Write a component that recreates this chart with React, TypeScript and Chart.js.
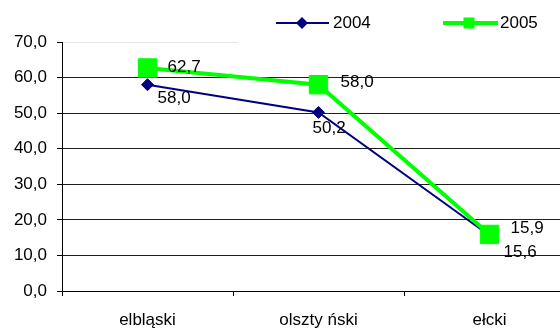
import React, { useEffect, useRef } from "react";
import { Chart, registerables } from "chart.js";

Chart.register(...registerables);

const categories = ["elbląski", "olszty ński", "ełcki"];
const series2004 = [58.0, 50.2, 15.6];
const series2005 = [62.7, 58.0, 15.9];
const seriesNames = ["2004", "2005"];
const yTicks = [0, 10, 20, 30, 40, 50, 60, 70];

const FONT = "'Liberation Sans', Arial, sans-serif";
const NAVY = "#000080";
const LIME = "#00ff00";
const CANVAS_W = 589;

const fmt = (v: number) => v.toFixed(1).replace(".", ",");

const labelOffsets = [
  [
    [10, 14],
    [-6, 16],
    [14, 17],
  ],
  [
    [20, -1],
    [22, -2],
    [21, -6],
  ],
];

const overlayPlugin = {
  id: "overlay",
  beforeDatasetsDraw(chart: any) {
    const ctx = chart.ctx;
    ctx.save();
    ctx.fillStyle = "#ffffff";
    ctx.fillRect(238, 38, 400, 8);
    ctx.restore();
  },
  afterDatasetsDraw(chart: any) {
    const ctx = chart.ctx;
    ctx.save();
    ctx.font = `17px ${FONT}`;
    ctx.fillStyle = "#000000";
    ctx.textAlign = "left";
    ctx.textBaseline = "middle";
    chart.data.datasets.forEach((ds: any, di: number) => {
      const meta = chart.getDatasetMeta(di);
      meta.data.forEach((pt: any, i: number) => {
        const [dx, dy] = labelOffsets[di][i];
        ctx.fillText(fmt(ds.data[i]), pt.x + dx, pt.y + dy);
      });
    });
    ctx.restore();
  },
  afterDraw(chart: any) {
    const ctx = chart.ctx;
    ctx.save();
    const y = 23;
    ctx.strokeStyle = NAVY;
    ctx.lineWidth = 2;
    ctx.beginPath();
    ctx.moveTo(276, y);
    ctx.lineTo(329, y);
    ctx.stroke();
    ctx.fillStyle = NAVY;
    ctx.beginPath();
    ctx.moveTo(302 - 6, y);
    ctx.lineTo(302, y - 6);
    ctx.lineTo(302 + 6, y);
    ctx.lineTo(302, y + 6);
    ctx.closePath();
    ctx.fill();
    ctx.strokeStyle = LIME;
    ctx.lineWidth = 4;
    ctx.beginPath();
    ctx.moveTo(443, y);
    ctx.lineTo(498, y);
    ctx.stroke();
    ctx.fillStyle = LIME;
    ctx.fillRect(469 - 5.5, y - 5.5, 11, 11);
    ctx.font = `17px ${FONT}`;
    ctx.fillStyle = "#000000";
    ctx.textAlign = "left";
    ctx.textBaseline = "middle";
    ctx.fillText(seriesNames[0], 333, y);
    ctx.fillText(seriesNames[1], 500, y);
    ctx.restore();
  },
};

export default function App() {
  const ref = useRef<HTMLCanvasElement | null>(null);
  useEffect(() => {
    if (!ref.current) return;
    const chart = new Chart(ref.current, {
      type: "line",
      data: {
        labels: categories,
        datasets: [
          {
            label: seriesNames[0],
            data: series2004,
            order: 1,
            borderColor: NAVY,
            backgroundColor: NAVY,
            borderWidth: 2,
            pointStyle: "rectRot",
            pointRadius: 6,
            pointBorderWidth: 1,
            pointBackgroundColor: NAVY,
            pointBorderColor: NAVY,
            tension: 0,
          },
          {
            label: seriesNames[1],
            data: series2005,
            order: 0,
            borderColor: LIME,
            backgroundColor: LIME,
            borderWidth: 4,
            pointStyle: "rect",
            pointRadius: 13,
            pointBorderWidth: 1,
            pointBackgroundColor: LIME,
            pointBorderColor: LIME,
            tension: 0,
          },
        ],
      },
      options: {
        responsive: false,
        animation: false,
        layout: { padding: { left: 0, top: 42, right: 8, bottom: 0 } },
        plugins: {
          legend: { display: false },
          tooltip: { enabled: false },
        },
        scales: {
          x: {
            offset: true,
            grid: {
              offset: true,
              drawOnChartArea: false,
              drawTicks: true,
              tickLength: 5,
              color: "#000000",
            },
            border: { display: true, color: "#000000", width: 1 },
            ticks: {
              color: "#000000",
              font: { family: FONT, size: 17 },
              padding: 14,
              maxRotation: 0,
              autoSkip: false,
            },
            afterFit(scale: any) {
              scale.height = 38;
            },
          },
          y: {
            min: 0,
            max: 70,
            afterBuildTicks(scale: any) {
              scale.ticks = yTicks.map((v) => ({ value: v }));
            },
            grid: {
              color: (c: any) => (c.tick && c.tick.value === 70 ? "#e4e4e4" : "#1e1e1e"),
              tickColor: "#000000",
              tickLength: 5,
              lineWidth: 1,
            },
            border: { display: true, color: "#000000", width: 1 },
            ticks: {
              color: "#000000",
              font: { family: FONT, size: 17 },
              padding: 10,
              callback: (v: any) => fmt(Number(v)),
            },
            afterFit(scale: any) {
              scale.width = 62;
            },
          },
        },
      },
      plugins: [overlayPlugin],
    });
    return () => chart.destroy();
  }, []);
  return (
    <div
      style={{
        position: "fixed",
        left: 0,
        top: 0,
        width: 560,
        height: 329,
        overflow: "hidden",
        background: "#ffffff",
      }}
    >
      <canvas
        ref={ref}
        width={CANVAS_W}
        height={329}
        style={{ width: CANVAS_W, height: 329, display: "block" }}
      />
    </div>
  );
}
